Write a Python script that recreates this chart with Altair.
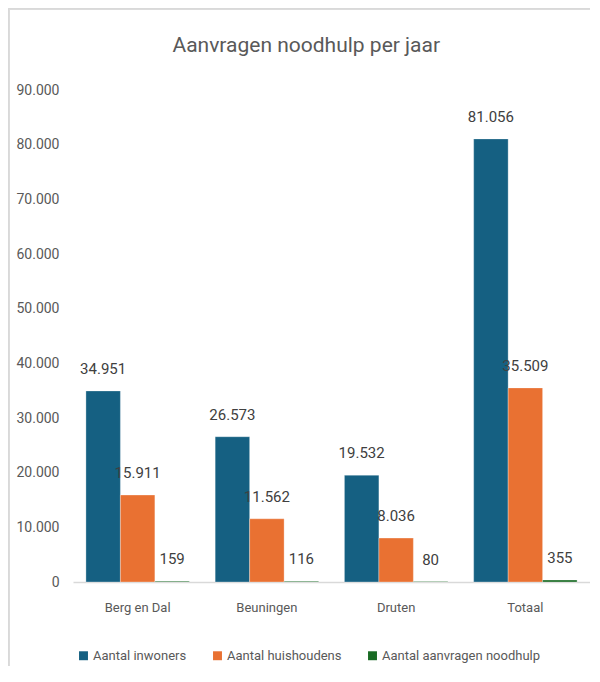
import altair as alt
import pandas as pd

gemeenten = ["Berg en Dal", "Beuningen", "Druten", "Totaal"]
series = ["Aantal inwoners", "Aantal huishoudens", "Aantal aanvragen noodhulp"]
inwoners = [34951, 26573, 19532, 81056]
huishoudens = [15911, 11562, 8036, 35509]
aanvragen = [159, 116, 80, 355]
colors = ["#156082", "#E97132", "#196B24"]
y_ticks = [0, 10000, 20000, 30000, 40000, 50000, 60000, 70000, 80000, 90000]

rows = []
for i, g in enumerate(gemeenten):
    for s, vals in zip(series, [inwoners, huishoudens, aanvragen]):
        rows.append({"gemeente": g, "reeks": s, "waarde": vals[i]})
df = pd.DataFrame(rows)

FONT = "Liberation Sans Narrow, Roboto, sans-serif"

base = alt.Chart(df).encode(
    x=alt.X("gemeente:N", sort=gemeenten, title=None,
            scale=alt.Scale(paddingInner=0.2, paddingOuter=0.1),
            axis=alt.Axis(labelAngle=0, ticks=False, domain=True, domainColor="#d9d9d9",
                          domainWidth=1.3, labelPadding=19, labelFontSize=13,
                          labelColor="#595959", labelFont=FONT, grid=False)),
    xOffset=alt.XOffset("reeks:N", sort=series, scale=alt.Scale(paddingInner=0, paddingOuter=0)),
    y=alt.Y("waarde:Q", title=None,
            scale=alt.Scale(domain=[0, 90000], nice=False),
            axis=alt.Axis(values=y_ticks, format=",d", ticks=False, domain=False, grid=False,
                          labelPadding=14, labelFontSize=14, labelColor="#595959",
                          labelFont=FONT)),
)

bars = base.mark_bar(stroke="#ffffff", strokeWidth=0.5, strokeOpacity=0.6).encode(
    color=alt.Color("reeks:N", sort=series, scale=alt.Scale(domain=series, range=colors),
                    legend=alt.Legend(title=None, orient="none", direction="horizontal",
                                      legendX=4, legendY=559, symbolType="square",
                                      symbolSize=80, labelFontSize=13, labelColor="#595959",
                                      labelFont=FONT, columnPadding=24, labelOffset=3,
                                      labelLimit=0, symbolStrokeWidth=0))
)

labels = base.mark_text(baseline="bottom", dy=-14, fontSize=15, color="#404040",
                        font=FONT).encode(text=alt.Text("waarde:Q", format=",d"))

left_line = alt.Chart(df).mark_rule(stroke="#d9d9d9", strokeWidth=1.5, clip=False).encode(
    x=alt.value(-64.5), y=alt.value(-81.5), y2=alt.value(590)
)
top_line = alt.Chart(df).mark_rule(stroke="#d9d9d9", strokeWidth=1.5, clip=False).encode(
    x=alt.value(-64.5), x2=alt.value(517), y=alt.value(-81.5)
)

chart = alt.layer(left_line, top_line, bars, labels).properties(
    width=517, height=492,
    padding={"left": 65, "top": 82, "right": 0, "bottom": 84},
    autosize=alt.AutoSizeParams(type="none"),
    title=alt.TitleParams("Aanvragen noodhulp per jaar", fontSize=21, color="#595959",
                          font=FONT, fontWeight="normal", anchor="middle", frame="bounds",
                          offset=0, dy=48, dx=7),
).configure(
    locale={"number": {"decimal": ",", "thousands": ".", "grouping": [3],
                       "currency": ["€", ""]}}
).configure_view(stroke=None)

chart.save("out.html", embed_options={"renderer": "svg", "actions": False})
